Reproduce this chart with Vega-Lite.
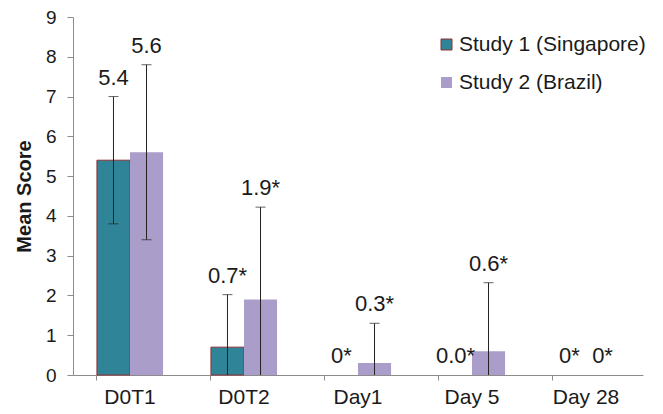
{
  "$schema": "https://vega.github.io/schema/vega-lite/v6.json",
  "width": 570,
  "height": 358,
  "autosize": {"type": "none"},
  "padding": {"left": 73, "top": 17, "right": 20, "bottom": 39},
  "background": "white",
  "config": {
    "view": {"stroke": null},
    "font": "Liberation Sans",
    "axis": {"grid": false, "domainColor": "#8c8c8c", "tickColor": "#8c8c8c", "labelColor": "#1a1a1a", "titleColor": "#1a1a1a", "labelFont": "Liberation Sans", "titleFont": "Liberation Sans"},
    "axisY": {"tickCount": 10, "labelOverlap": false, "labelFontSize": 19, "tickSize": 6, "labelPadding": 11, "titleFontSize": 20, "titleFontWeight": "bold", "titlePadding": 11},
    "legend": {"labelFont": "Liberation Sans"}
  },
  "data": {
    "values": [
      {"time": "D0T1", "study": "Study 1 (Singapore)", "value": 5.4, "lo": 3.8, "hi": 7.0, "label": "5.4"},
      {"time": "D0T1", "study": "Study 2 (Brazil)", "value": 5.6, "lo": 3.4, "hi": 7.8, "label": "5.6"},
      {"time": "D0T2", "study": "Study 1 (Singapore)", "value": 0.7, "lo": 0, "hi": 2.02, "label": "0.7*"},
      {"time": "D0T2", "study": "Study 2 (Brazil)", "value": 1.9, "lo": 0, "hi": 4.22, "label": "1.9*"},
      {"time": "Day1", "study": "Study 1 (Singapore)", "value": 0, "lo": 0, "hi": 0, "label": "0*"},
      {"time": "Day1", "study": "Study 2 (Brazil)", "value": 0.3, "lo": 0, "hi": 1.3, "label": "0.3*"},
      {"time": "Day 5", "study": "Study 1 (Singapore)", "value": 0, "lo": 0, "hi": 0, "label": "0.0*"},
      {"time": "Day 5", "study": "Study 2 (Brazil)", "value": 0.6, "lo": 0, "hi": 2.32, "label": "0.6*"},
      {"time": "Day 28", "study": "Study 1 (Singapore)", "value": 0, "lo": 0, "hi": 0, "label": "0*"},
      {"time": "Day 28", "study": "Study 2 (Brazil)", "value": 0, "lo": 0, "hi": 0, "label": "0*"}
    ]
  },
  "encoding": {
    "x": {
      "field": "time", "type": "nominal",
      "sort": ["D0T1", "D0T2", "Day1", "Day 5", "Day 28"],
      "scale": {"paddingInner": 0.42, "paddingOuter": 0.21},
      "axis": {"title": null, "labelAngle": 0, "labelFontSize": 21, "tickSize": 5, "labelPadding": 6, "bandPosition": 0}
    },
    "xOffset": {"field": "study", "type": "nominal", "sort": ["Study 1 (Singapore)", "Study 2 (Brazil)"]}
  },
  "layer": [
    {
      "transform": [{"filter": "datum.value > 0"}],
      "mark": {"type": "bar", "strokeWidth": 1},
      "encoding": {
        "y": {
          "field": "value", "type": "quantitative",
          "scale": {"domain": [0, 9], "nice": false},
          "axis": {"title": "Mean Score", "tickCount": 10, "values": [0,1,2,3,4,5,6,7,8,9]}
        },
        "color": {
          "field": "study", "type": "nominal",
          "scale": {"domain": ["Study 1 (Singapore)", "Study 2 (Brazil)"], "range": ["#2f8597", "#ab9dca"]},
          "legend": {"title": null, "orient": "none", "legendX": 363, "legendY": 17, "labelFontSize": 21, "labelLimit": 400, "symbolType": "square", "symbolSize": 121, "symbolStrokeWidth": 1, "rowPadding": 16, "labelOffset": 2, "labelColor": "#1a1a1a"}
        },
        "stroke": {
          "field": "study", "type": "nominal",
          "scale": {"domain": ["Study 1 (Singapore)", "Study 2 (Brazil)"], "range": ["#8e2f35", "transparent"]},
          "legend": null
        }
      }
    },
    {
      "transform": [{"filter": "datum.hi > 0"}],
      "mark": {"type": "rule", "color": "#222222", "strokeWidth": 1},
      "encoding": {
        "y": {"field": "lo", "type": "quantitative"},
        "y2": {"field": "hi"}
      }
    },
    {
      "transform": [{"filter": "datum.hi > 0"}],
      "mark": {"type": "tick", "color": "#222222", "thickness": 1, "size": 10, "orient": "horizontal"},
      "encoding": {
        "y": {"field": "hi", "type": "quantitative"}
      }
    },
    {
      "transform": [{"filter": "datum.lo > 0"}],
      "mark": {"type": "tick", "color": "#222222", "thickness": 1, "size": 10, "orient": "horizontal"},
      "encoding": {
        "y": {"field": "lo", "type": "quantitative"}
      }
    },
    {
      "mark": {"type": "text", "fontSize": 22, "color": "#1a1a1a", "baseline": "alphabetic", "dy": -12},
      "encoding": {
        "y": {"field": "hi", "type": "quantitative"},
        "text": {"field": "label"}
      }
    }
  ]
}
